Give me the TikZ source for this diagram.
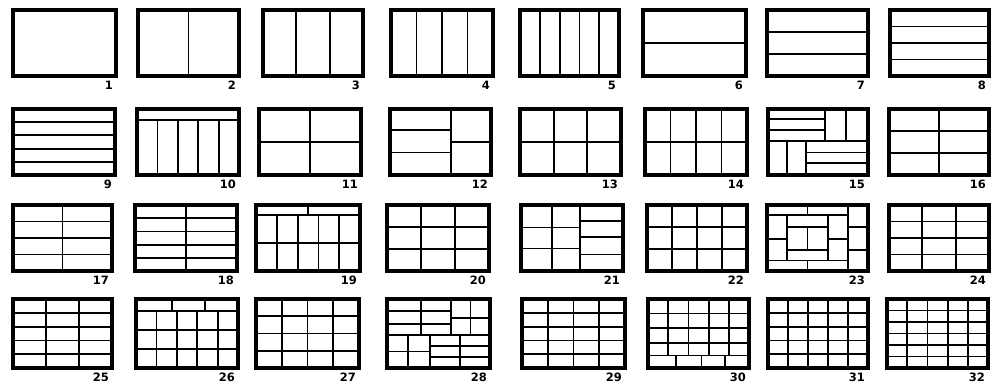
\documentclass[tikz,border=0pt]{standalone}
\usepackage{fontspec}
\setmainfont{DejaVu Sans}
\tikzset{
  frame/.style={line width=3.3pt},
  inner/.style={line width=1.8pt, line cap=rect},
  lbl/.style={font=\fontsize{11.5}{11.5}\selectfont\bfseries, inner sep=0pt, anchor=north east}
}
\newcommand\vln[3]{\draw[inner] (#1,#2) -- (#1,#3);}
\newcommand\hln[3]{\draw[inner] (#2,#1) -- (#3,#1);}
\newcommand\panel[6]{%
  \pgfmathsetmacro\pw{#3-#1}\pgfmathsetmacro\ph{#4-#2}%
  \begin{scope}[shift={(#1pt,-#2pt)}, x=\pw pt, y=-\ph pt]
    #6
    \draw[frame] (0,0) rectangle (1,1);
    \node[lbl] (n#5) at ([xshift=-3pt,yshift=-5pt]1,1) {#5};
  \end{scope}}
\begin{document}
\begin{tikzpicture}[x=1pt,y=-1pt]
\fill[white] (0,0) rectangle (992,385);
\useasboundingbox (0,0) rectangle (992,385);
% Row 1
\panel{13}{10}{116}{76}{1}{}
\panel{138}{10}{239}{76}{2}{\vln{.5}{0}{1}}
\panel{263}{10}{363}{76}{3}{\foreach \u in {1/3,2/3}{\vln{\u}{0}{1}}}
\panel{391}{10}{493}{76}{4}{\foreach \u in {.25,.5,.75}{\vln{\u}{0}{1}}}
\panel{520}{10}{619}{76}{5}{\foreach \u in {.2,.4,.6,.8}{\vln{\u}{0}{1}}}
\panel{643}{10}{746}{76}{6}{\hln{.5}{0}{1}}
\panel{767}{10}{868}{76}{7}{\foreach \v in {1/3,2/3}{\hln{\v}{0}{1}}}
\panel{890}{10}{989}{76}{8}{\foreach \v in {.25,.5,.75}{\hln{\v}{0}{1}}}
% Row 2
\panel{13}{109}{115}{175}{9}{\foreach \v in {.2,.4,.6,.8}{\hln{\v}{0}{1}}}
\panel{137}{109}{239}{175}{10}{\hln{.17}{0}{1}\foreach \u in {.2,.4,.6,.8}{\vln{\u}{.17}{1}}}
\panel{259}{109}{361}{175}{11}{\vln{.5}{0}{1}\hln{.5}{0}{1}}
\panel{390}{109}{491}{175}{12}{\vln{.6}{0}{1}\hln{.32}{0}{.6}\hln{.66}{0}{.6}\hln{.5}{.6}{1}}
\panel{520}{109}{621}{175}{13}{\foreach \u in {1/3,2/3}{\vln{\u}{0}{1}}\hln{.5}{0}{1}}
\panel{645}{109}{747}{175}{14}{\foreach \u in {.25,.5,.75}{\vln{\u}{0}{1}}\hln{.5}{0}{1}}
\panel{768}{109}{868}{175}{15}{\hln{.48}{0}{1}\vln{.57}{0}{.48}\vln{.78}{0}{.48}\hln{.15}{0}{.57}\hln{.32}{0}{.57}
  \vln{.19}{.48}{1}\vln{.38}{.48}{1}\hln{.66}{.38}{1}\hln{.82}{.38}{1}}
\panel{889}{109}{989}{175}{16}{\vln{.5}{0}{1}\foreach \v in {1/3,2/3}{\hln{\v}{0}{1}}}
% Row 3
\panel{13}{205}{112}{271}{17}{\vln{.5}{0}{1}\foreach \v in {.25,.5,.75}{\hln{\v}{0}{1}}}
\panel{135}{205}{237}{271}{18}{\vln{.5}{0}{1}\foreach \v in {.2,.4,.6,.8}{\hln{\v}{0}{1}}}
\panel{256}{205}{360}{271}{19}{\hln{.15}{0}{1}\vln{.5}{0}{.15}\foreach \u in {.2,.4,.6,.8}{\vln{\u}{.15}{1}}\hln{.57}{0}{1}}
\panel{387}{205}{489}{271}{20}{\foreach \u in {1/3,2/3}{\vln{\u}{0}{1}\hln{\u}{0}{1}}}
\panel{521}{205}{623}{271}{21}{\vln{.3}{0}{1}\vln{.58}{0}{1}\hln{.34}{0}{.58}\hln{.66}{0}{.58}
  \hln{.24}{.58}{1}\hln{.49}{.58}{1}\hln{.75}{.58}{1}}
\panel{647}{205}{747}{271}{22}{\foreach \u in {.25,.5,.75}{\vln{\u}{0}{1}}\foreach \v in {1/3,2/3}{\hln{\v}{0}{1}}}
\panel{767}{205}{868}{271}{23}{\hln{.15}{0}{.8}\vln{.4}{0}{.15}\vln{.8}{0}{1}\hln{.33}{.8}{1}\hln{.68}{.8}{1}
  \hln{.84}{0}{.8}\vln{.4}{.84}{1}\vln{.2}{.15}{.84}\hln{.51}{0}{.2}\vln{.6}{.15}{.84}\hln{.51}{.6}{.8}
  \hln{.33}{.2}{.6}\hln{.68}{.2}{.6}\vln{.4}{.33}{.68}}
\panel{889}{205}{989}{271}{24}{\foreach \u in {1/3,2/3}{\vln{\u}{0}{1}}\foreach \v in {.25,.5,.75}{\hln{\v}{0}{1}}}
% Row 4
\panel{13}{299}{112}{368}{25}{\foreach \u in {1/3,2/3}{\vln{\u}{0}{1}}\foreach \v in {.2,.4,.6,.8}{\hln{\v}{0}{1}}}
\panel{136}{299}{238}{368}{26}{\hln{.17}{0}{1}\vln{.35}{0}{.17}\vln{.68}{0}{.17}
  \foreach \u in {.2,.4,.6,.8}{\vln{\u}{.17}{1}}\hln{.45}{0}{1}\hln{.72}{0}{1}}
\panel{256}{299}{359}{368}{27}{\foreach \u in {.25,.5,.75}{\vln{\u}{0}{1}\hln{\u}{0}{1}}}
\panel{387}{299}{490}{368}{28}{\hln{.52}{0}{1}\vln{.62}{0}{.52}\vln{.33}{0}{.52}\hln{.17}{0}{.62}\hln{.36}{0}{.62}
  \vln{.81}{0}{.52}\hln{.27}{.62}{1}\vln{.2}{.52}{1}\vln{.42}{.52}{1}\hln{.76}{0}{.42}
  \vln{.71}{.52}{1}\hln{.68}{.42}{1}\hln{.84}{.42}{1}}
\panel{522}{299}{625}{368}{29}{\foreach \u in {.25,.5,.75}{\vln{\u}{0}{1}}\foreach \v in {.2,.4,.6,.8}{\hln{\v}{0}{1}}}
\panel{648}{299}{749}{368}{30}{\foreach \u in {.2,.4,.6,.8}{\vln{\u}{0}{.82}}\foreach \v in {.21,.42,.64,.82}{\hln{\v}{0}{1}}
  \foreach \u in {.28,.53,.76}{\vln{\u}{.82}{1}}}
\panel{768}{299}{868}{368}{31}{\foreach \u in {.2,.4,.6,.8}{\vln{\u}{0}{1}\hln{\u}{0}{1}}}
\panel{887}{299}{988}{368}{32}{\foreach \u in {.2,.4,.6,.8}{\vln{\u}{0}{1}}\foreach \v in {1/6,2/6,3/6,4/6,5/6}{\hln{\v}{0}{1}}}
\end{tikzpicture}
\end{document}
